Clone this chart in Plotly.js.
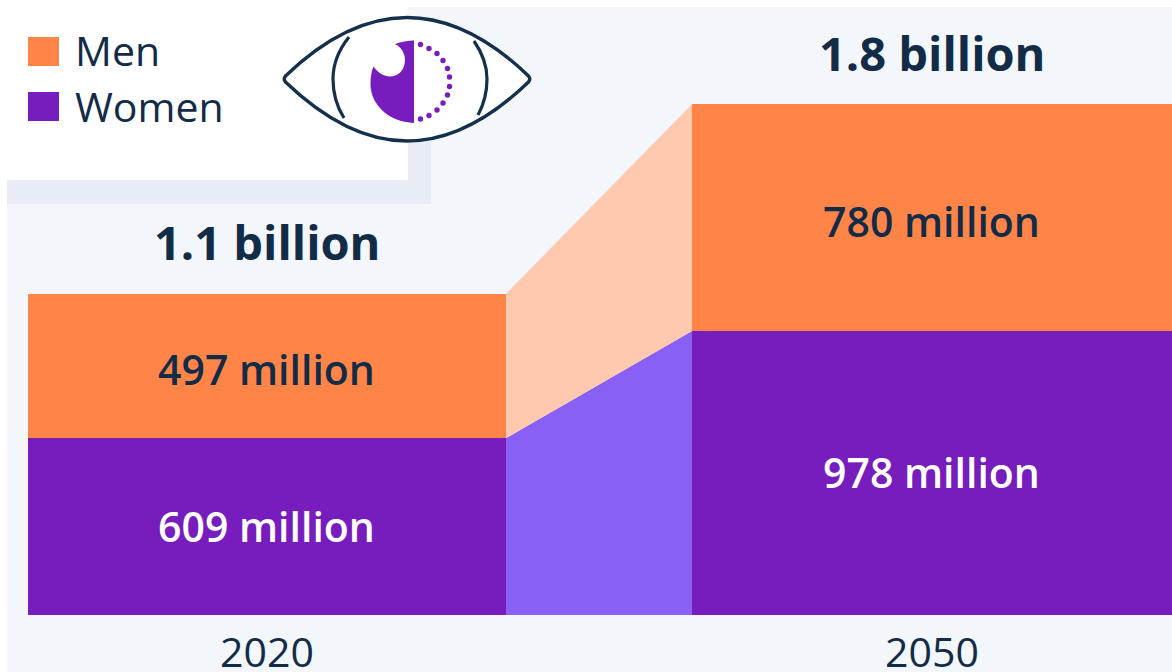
<!DOCTYPE html>
<html>
<head>
<meta charset="utf-8">
<script src="https://cdn.plot.ly/plotly-3.0.1.min.js"></script>
<style>html,body{margin:0;padding:0;background:#fff;overflow:hidden}#chart{width:1172px;height:672px}</style>
</head>
<body>
<div id="chart"></div>
<script>
// Projected population, in millions
const years = [2020, 2050];
const women = [609, 978];
const men = [497, 780];
const totalLabels = ['1.1 billion', '1.8 billion'];
const seriesNames = ['Men', 'Women'];

const WIDTH = 1172, HEIGHT = 672, PLOT_BOTTOM = 615;
const INK = '#122c48', ORANGE = '#ff8447', PURPLE = '#771cbd';
const ORANGE_LINK = '#fec9ae', PURPLE_LINK = '#8860f5';
const FONT = '"Open Sans", sans-serif';
const BAR_YEARS = [21.568, 21.65];

// Page-pixel helpers for the key, the eye and the panel behind the chart
const px = x => x / WIDTH;
const py = y => (PLOT_BOTTOM - y) / PLOT_BOTTOM;
const toPaper = d => d.replace(/(-?[\d.]+),(-?[\d.]+)/g, (_, x, y) => px(+x).toFixed(5) + ',' + py(+y).toFixed(5));
const rect = (x0, y0, x1, y1, color) => ({
  type: 'rect', xref: 'paper', yref: 'paper', layer: 'below',
  x0: px(x0), x1: px(x1), y0: py(y0), y1: py(y1),
  fillcolor: color, line: {width: 0}
});
const stroke = (d, color, width) => ({
  type: 'path', xref: 'paper', yref: 'paper', path: toPaper(d),
  line: {color: color, width: width}
});

const edgeLeft = years[0] + BAR_YEARS[0] / 2;
const edgeRight = years[1] - BAR_YEARS[1] / 2;
const tops = years.map((_, i) => women[i] + men[i]);

const traces = [
  {type: 'scatter', x: [edgeLeft, edgeRight, edgeRight, edgeLeft], y: [0, 0, women[1], women[0]],
   fill: 'toself', fillcolor: PURPLE_LINK, mode: 'none', hoverinfo: 'skip', showlegend: false},
  {type: 'scatter', x: [edgeLeft, edgeRight, edgeRight, edgeLeft], y: [women[0], women[1], tops[1], tops[0]],
   fill: 'toself', fillcolor: ORANGE_LINK, mode: 'none', hoverinfo: 'skip', showlegend: false},
  {type: 'bar', name: seriesNames[1], x: years, y: women, width: BAR_YEARS, marker: {color: PURPLE}, showlegend: false},
  {type: 'bar', name: seriesNames[0], x: years, y: men, width: BAR_YEARS, marker: {color: ORANGE}, showlegend: false}
];

// Eye emblem outlines
const eyeOutline = 'M285.5,76 C325,38 365,17.5 407,17.5 C449,17.5 489,38 528.5,76 Q531,79 528.5,82 C489,120 449,141 407,141 C365,141 325,120 285.5,82 Q283,79 285.5,76 Z';
const lidLeft = 'M349,37 C337,52 333,66 333,79 C333,94 337,107 344,118';
const lidRight = 'M474,41 C483,54 487,67 487,79 C487,93 484,104 478,115';
const iris = 'M414,40.5 L414,123 C388,122 370.5,104 370.5,84 C370.5,77 371.5,71 373.5,66.5 C378,73 384,76.5 390,76.5 C399,76.5 405,69 405,60 C405,53 401,47 395,44 C401,42 408,40.5 414,40.5 Z';
const irisDots = [[420.5,44.5],[429,48.5],[437,53.5],[443,60.5],[447.5,68.5],[449.5,77],[449.5,86.5],[447.5,95],[443,103],[437,110],[429,115.5],[420.5,119]];

const shapes = [
  rect(7, 7, WIDTH, HEIGHT, '#f3f6fa'),
  rect(7, 180, 431, 204, '#e8edf5'),
  rect(408, 60, 431, 204, '#e8edf5'),
  rect(0, 0, 408, 180, '#ffffff'),
  rect(28, 37, 59, 66, ORANGE),
  rect(28, 92, 59, 121, PURPLE),
  Object.assign(stroke(eyeOutline, '#14304b', 3.4), {fillcolor: '#ffffff'}),
  stroke(lidLeft, '#14304b', 3.2),
  stroke(lidRight, '#14304b', 3.2),
  Object.assign(stroke(iris, PURPLE, 0), {fillcolor: PURPLE}),
  ...irisDots.map(([x, y]) => ({
    type: 'circle', xref: 'paper', yref: 'paper',
    x0: px(x - 2.7), x1: px(x + 2.7), y0: py(y + 2.7), y1: py(y - 2.7),
    fillcolor: PURPLE, line: {width: 0}
  }))
];

const label = (x, y, text, size, color, weight, yshift) => ({
  x: x, y: y, xref: 'x', yref: 'y', text: text, showarrow: false, yshift: yshift,
  xanchor: 'center', yanchor: 'middle',
  font: {family: FONT, size: size, color: color, weight: weight}
});
const annotations = [];
years.forEach((year, i) => {
  annotations.push(label(year, women[i] / 2, women[i] + ' million', 41, '#ffffff', 600, 1));
  annotations.push(label(year, women[i] + men[i] / 2, men[i] + ' million', 41, INK, 600, -3));
  annotations.push(label(year, tops[i], totalLabels[i], 47, INK, 700, 51.5));
});
[[seriesNames[0], 50], [seriesNames[1], 106]].forEach(([text, y]) => annotations.push({
  xref: 'paper', yref: 'paper', x: px(73), y: py(y), text: text, showarrow: false,
  xanchor: 'left', yanchor: 'middle', font: {family: FONT, size: 41, color: INK}
}));

const layout = {
  width: WIDTH, height: HEIGHT,
  margin: {l: 0, r: 0, t: 0, b: HEIGHT - PLOT_BOTTOM, pad: 0},
  paper_bgcolor: '#ffffff', plot_bgcolor: 'rgba(0,0,0,0)',
  barmode: 'stack', showlegend: false,
  xaxis: {
    range: [2007.957, 2060.829], tickmode: 'array', tickvals: years, ticktext: years.map(String),
    ticks: 'outside', ticklen: 2, tickcolor: 'rgba(0,0,0,0)', showgrid: false, zeroline: false, showline: false,
    tickfont: {family: FONT, size: 41, color: INK}
  },
  yaxis: {range: [0, 2117], visible: false, showgrid: false, zeroline: false},
  shapes: shapes, annotations: annotations, hovermode: false
};

Plotly.newPlot('chart', traces, layout, {displayModeBar: false, staticPlot: true});
</script>
</body>
</html>
